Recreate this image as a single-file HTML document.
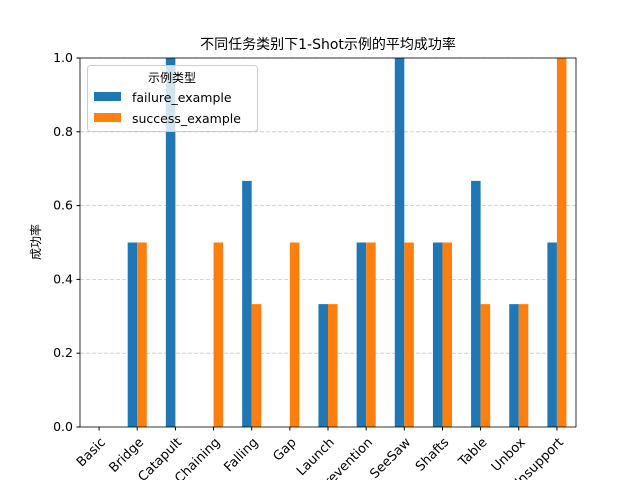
<!DOCTYPE html>
<html><head><meta charset="utf-8"><style>
body{margin:0;background:#fff}
svg{display:block;font-family:"DejaVu Sans","Liberation Sans","Noto Sans CJK SC",sans-serif}
</style></head><body>
<svg width="640" height="480" viewBox="0 0 640 480" id="chart">
<rect width="640" height="480" fill="#fff"/>
<text x="328" y="49" font-size="14" text-anchor="middle">不同任务类别下1-Shot示例的平均成功率</text>
<text transform="translate(40,242) rotate(-90)" font-size="12" text-anchor="middle">成功率</text>
<g id="grid"></g><g id="bars"></g><g id="axes"></g>
<g>
<rect x="87.5" y="65.5" width="170" height="66" rx="3" fill="#fff" fill-opacity="0.8" stroke="#ccc"/>
<text x="172" y="82" font-size="12" text-anchor="middle">示例类型</text>
<rect x="94" y="92" width="27" height="9" fill="#1f77b4"/>
<text x="132" y="102" font-size="12.5">failure_example</text>
<rect x="94" y="113" width="27" height="9" fill="#ff7f0e"/>
<text x="132" y="123" font-size="12.5">success_example</text>
</g>
</svg>
<script>
const categories=["Basic","Bridge","Catapult","Chaining","Falling","Gap","Launch","Prevention","SeeSaw","Shafts","Table","Unbox","Unsupport"];
const failureValues=[0,0.5,1,0,0.667,0,0.333,0.5,1,0.5,0.667,0.333,0.5];
const successValues=[0,0.5,0,0.5,0.333,0.5,0.333,0.5,0.5,0.5,0.333,0.333,1];
const yTicks=[0,0.2,0.4,0.6,0.8,1.0];
const NS="http://www.w3.org/2000/svg";
const L=80,R=576,T=58,B=427;
const step=(R-L)/categories.length;
const xc=i=>L+step*(i+0.5);
const y=v=>B-(B-T)*v;
function mk(t,a,p){const e=document.createElementNS(NS,t);for(const k in a)e.setAttribute(k,a[k]);p.appendChild(e);return e;}
const grid=document.getElementById('grid'),bars=document.getElementById('bars'),axes=document.getElementById('axes');
yTicks.forEach(v=>{
 if(v>0){const g=mk('line',{x1:L,x2:R,y1:y(v),y2:y(v),stroke:'#b0b0b0','stroke-dasharray':'4,2','stroke-opacity':0.7,'stroke-width':0.8},grid);
 
 }
 const tk=mk('line',{x1:L-3.5,x2:L,y1:y(v),y2:y(v),stroke:'#000'},axes);
 
 
 const t=mk('text',{x:L-7,y:y(v)+4,'font-size':12.5,'text-anchor':'end'},axes);
 t.textContent=v.toFixed(1);
 
 
});
const bw=step*0.25;
categories.forEach((c,i)=>{
 const f=mk('rect',{x:xc(i)-bw,y:y(failureValues[i]),width:bw,height:B-y(failureValues[i]),fill:'#1f77b4'},bars);
 
 
 const s=mk('rect',{x:xc(i),y:y(successValues[i]),width:bw,height:B-y(successValues[i]),fill:'#ff7f0e'},bars);
 
 
 const tk=mk('line',{x1:xc(i),x2:xc(i),y1:B,y2:B+3.5,stroke:'#000'},axes);
 
 
 const t=mk('text',{transform:`translate(${xc(i)+7},${B+16}) rotate(-45)`,'font-size':13,'text-anchor':'end'},axes);
 t.textContent=c;
 
 
});
const fr=mk('rect',{x:L,y:T,width:R-L,height:B-T,fill:'none',stroke:'#000','stroke-width':0.8},axes);


</script>
</body></html>
